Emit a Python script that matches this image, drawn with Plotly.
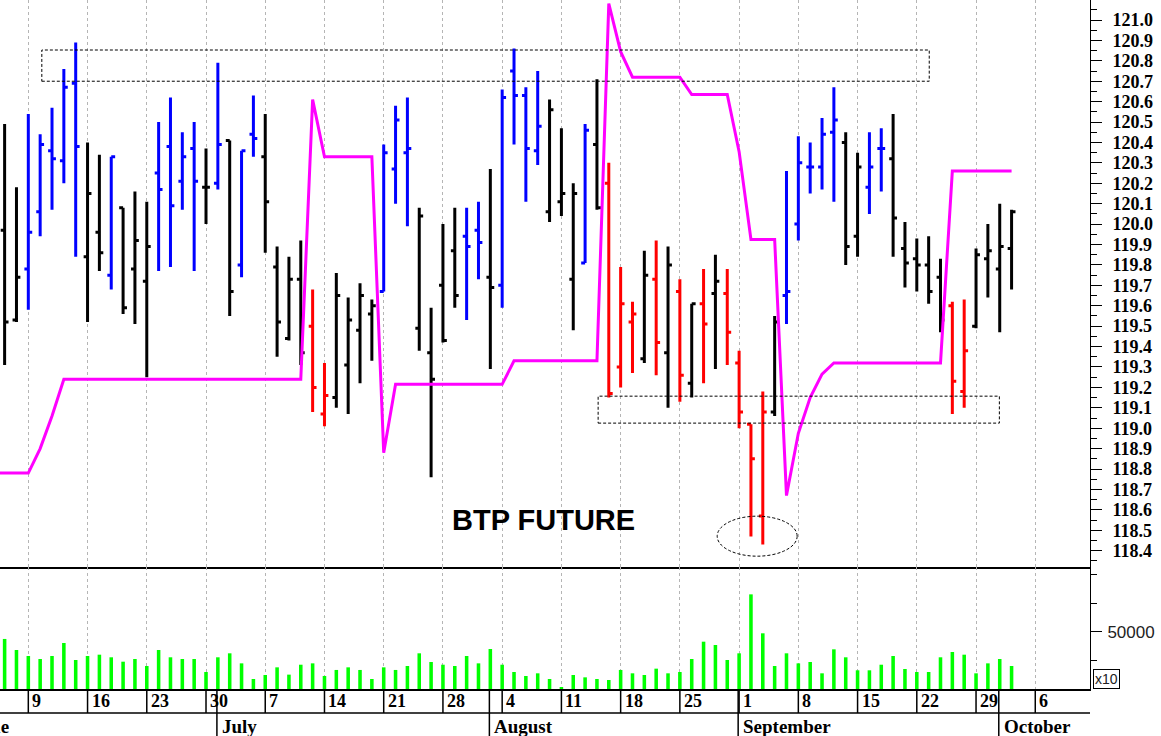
import numpy as np
import pandas as pd
import plotly.graph_objects as go
from plotly.subplots import make_subplots

# ---------------- data ----------------
dates = pd.bdate_range("2014-06-04", "2014-10-02")          # trading days shown
calendar = pd.bdate_range("2014-06-04", "2014-10-10")       # axis calendar (incl. empty right side)

# bar colour per day: b = blue, k = black, r = red
bar_colors = list("bkk" "bbbbb" "kkbkk" "kbbbb" "kbkbb" "kkkkr" "rkkkk" "bbbkk"
                  "kkbbk" "bbbbk" "kkbkr" "rrkrk" "rkrkr" "rrrkb" "bbbbk" "kbbkk"
                  "kkkrr" "kkkk")

opens = [119.90, 119.97, 119.53,
         119.78, 120.06, 120.36, 120.31, 120.69,
         119.84, 119.96, 119.75, 120.08, 119.78,
         119.72, 120.25, 120.38, 120.21, 120.37,
         120.18, 120.20, 120.41, 119.80, 120.44,
         120.33, 119.79, 119.44, 119.73, 119.50,
         119.07, 119.15, 119.31, 119.48, 119.56,
         119.67, 120.27, 120.35, 119.49, 119.37,
         119.70, 119.87, 119.94, 119.97, 119.74,
         119.70, 120.75, 120.63, 120.36, 120.06,
         120.11, 119.73, 119.81, 120.39, 120.20,
         119.30, 119.52, 119.34, 119.73, 119.37,
         119.67, 119.22, 119.61, 119.66, 119.66,
         119.32, 119.02, 118.57, 119.08, 119.65,
         120.00, 120.28, 120.28, 120.45, 120.40,
         119.94, 120.18, 120.37, 120.32, 119.88,
         119.83, 119.80, 119.74, 119.60, 119.18,
         119.50, 119.83, 119.78, 119.88]

highs = [120.40, 120.49, 120.18,
         120.54, 120.44, 120.57, 120.76, 120.89,
         120.40, 120.34, 120.33, 120.08, 120.16,
         120.11, 120.50, 120.62, 120.45, 120.50,
         120.37, 120.79, 120.41, 120.36, 120.63,
         120.54, 119.89, 119.84, 119.92, 119.68,
         119.32, 119.76, 119.64, 119.71, 119.63,
         120.39, 120.58, 120.62, 120.08, 119.59,
         120.00, 120.08, 120.08, 120.11, 120.27,
         120.66, 120.86, 120.67, 120.75, 120.61,
         120.47, 120.20, 120.49, 120.71, 120.30,
         119.79, 119.62, 119.87, 119.92, 119.89,
         119.73, 119.61, 119.78, 119.85, 119.78,
         119.38, 119.02, 119.18, 119.55, 120.26,
         120.43, 120.40, 120.52, 120.67, 120.45,
         120.35, 120.45, 120.47, 120.54, 120.01,
         119.93, 119.94, 119.83, 119.62, 119.63,
         119.88, 120.00, 120.10, 120.07]

lows = [119.70, 119.31, 119.52,
        119.58, 119.94, 120.07, 120.20, 119.84,
        119.52, 119.77, 119.68, 119.56, 119.51,
        119.25, 119.77, 119.79, 120.07, 119.77,
        120.00, 120.17, 119.55, 119.74, 120.33,
        119.86, 119.35, 119.43, 119.31, 119.08,
        119.01, 119.10, 119.07, 119.22, 119.33,
        119.67, 120.10, 119.99, 119.38, 118.76,
        119.42, 119.59, 119.53, 119.73, 119.29,
        119.59, 120.39, 120.11, 120.29, 120.01,
        120.04, 119.48, 119.81, 120.07, 119.15,
        119.20, 119.27, 119.32, 119.26, 119.10,
        119.13, 119.15, 119.22, 119.29, 119.31,
        119.00, 118.47, 118.43, 119.06, 119.51,
        119.92, 120.15, 120.17, 120.11, 119.80,
        119.84, 120.05, 120.16, 119.84, 119.69,
        119.67, 119.61, 119.47, 119.07, 119.10,
        119.49, 119.64, 119.47, 119.68]

closes = [119.87, 119.52, 119.74,
          119.96, 120.39, 120.32, 120.67, 120.38,
          120.15, 119.86, 120.33, 119.59, 119.92,
          119.89, 120.17, 120.09, 120.33, 120.21,
          120.18, 120.39, 119.67, 120.36, 120.42,
          120.11, 119.52, 119.73, 119.37, 119.20,
          119.16, 119.65, 119.53, 119.65, 119.60,
          120.35, 120.51, 120.37, 120.04, 119.24,
          119.43, 119.65, 119.89, 119.91, 119.69,
          120.62, 120.63, 120.37, 120.48, 120.56,
          120.15, 120.15, 120.46, 120.08, 119.17,
          119.61, 119.56, 119.75, 119.42, 119.80,
          119.26, 119.61, 119.51, 119.72, 119.47,
          119.08, 118.85, 119.08, 119.52, 119.67,
          120.30, 120.28, 120.44, 120.51, 119.89,
          120.28, 120.28, 120.37, 120.03, 119.81,
          119.80, 119.67, 119.53, 119.23, 119.38,
          119.85, 119.87, 119.89, 120.06]

stop_line = [118.78, 118.78, 118.78,
             118.78, 118.90, 119.06, 119.24, 119.24,
             119.24, 119.24, 119.24, 119.24, 119.24,
             119.24, 119.24, 119.24, 119.24, 119.24,
             119.24, 119.24, 119.24, 119.24, 119.24,
             119.24, 119.24, 119.24, 119.24, 120.61,
             120.33, 120.33, 120.33, 120.33, 120.33,
             118.88, 119.215, 119.215, 119.215, 119.215,
             119.215, 119.215, 119.215, 119.215, 119.215,
             119.215, 119.33, 119.33, 119.33, 119.33,
             119.33, 119.33, 119.33, 119.33, 121.08,
             120.845, 120.72, 120.72, 120.72, 120.72,
             120.72, 120.635, 120.635, 120.635, 120.635,
             120.355, 119.925, 119.925, 119.925, 118.67,
             118.975, 119.15, 119.265, 119.32, 119.32,
             119.32, 119.32, 119.32, 119.32, 119.32,
             119.32, 119.32, 119.32, 120.26, 120.26,
             120.26, 120.26, 120.26, 120.26]

volumes = [30000, 43900, 34200,
           28950, 26300, 28950, 40350, 25440,
           28950, 30100, 27800, 23950, 26300,
           20180, 34200, 27800, 26300, 26300,
           14900, 27800, 31300, 22500, 8770,
           12300, 19000, 12600, 21300, 22500,
           11400, 16700, 19000, 16700, 8770,
           19000, 16700, 20180, 31300, 23700,
           21300, 20180, 28950, 22500, 35100,
           21300, 14900, 11400, 13750, 8770,
           1170, 12300, 10230, 8770, 7900,
           16700, 13750, 12300, 17840, 13750,
           14900, 26300, 41500, 38600, 25440,
           31300, 83000, 48850, 20180, 31300,
           22500, 23700, 13750, 34800, 27800,
           16400, 16400, 21300, 28950, 17540,
           14900, 14900, 27800, 32450, 30100,
           13750, 22500, 26300, 20180]

month_names = {6: "June", 7: "July", 8: "August", 9: "September", 10: "October"}
title_text = "BTP FUTURE"

# ---------------- derived positions (trading-day index axis) ----------------
x = np.arange(len(dates))
cal_x = np.arange(len(calendar))
mondays = [i for i, d in zip(cal_x, calendar) if d.weekday() == 0]
monday_labels = [str(calendar[i].day) for i in mondays]
month_starts = [i for i in cal_x if i == 0 or calendar[i].month != calendar[i - 1].month]

XR = [0.61, 92.62]
YR = [118.32, 121.098]
VR = [0, 107000]

fig = make_subplots(rows=2, cols=1, shared_xaxes=True, vertical_spacing=0,
                    row_heights=[567 / 689, 122 / 689])

cmap = {"b": "#0000ff", "k": "#000000", "r": "#ff0000"}
for key, col in cmap.items():
    idx = [i for i, c in enumerate(bar_colors) if c == key]
    fig.add_trace(go.Ohlc(
        x=x[idx], open=[opens[i] for i in idx], high=[highs[i] for i in idx],
        low=[lows[i] for i in idx], close=[closes[i] for i in idx],
        increasing=dict(line=dict(color=col, width=3)),
        decreasing=dict(line=dict(color=col, width=3)),
        tickwidth=0.33, hoverinfo="skip", showlegend=False), row=1, col=1)

fig.add_trace(go.Scatter(x=x, y=stop_line, mode="lines",
                         line=dict(color="#ff00ff", width=3),
                         hoverinfo="skip", showlegend=False), row=1, col=1)

fig.add_trace(go.Bar(x=x, y=volumes, width=0.3, marker=dict(color="#00ff00", line=dict(width=0)),
                     hoverinfo="skip", showlegend=False), row=2, col=1)

grid = dict(showgrid=True, gridcolor="#b5b5b5", griddash="3px,3px", gridwidth=1,
            tickmode="array", tickvals=mondays, showticklabels=False, ticks="",
            zeroline=False, range=XR, showline=True, linecolor="black", linewidth=1.5,
            rangeslider=dict(visible=False))
fig.update_xaxes(**grid)

serif = dict(family="Liberation Serif", size=18, color="black", weight="bold")

fig.update_yaxes(row=1, col=1, range=YR, side="right", showline=True, linecolor="black",
                 linewidth=1, ticks="outside", ticklen=11, tickcolor="black", dtick=0.1,
                 tick0=0, tickformat=".1f", tickfont=serif, showgrid=False, zeroline=False,
                 ticklabelstandoff=7,
                 minor=dict(dtick=0.05, ticks="outside", ticklen=6, tickcolor="black",
                            showgrid=False))
fig.update_yaxes(row=2, col=1, range=VR, side="right", showline=True, linecolor="black",
                 linewidth=1, ticks="outside", ticklen=11, tickcolor="black",
                 tickmode="array", tickvals=[50000], ticktext=["50000"],
                 tickfont=dict(family="Liberation Sans", size=17, color="#222"),
                 showgrid=False, zeroline=False, ticklabelstandoff=2,
                 minor=dict(tickmode="array", tickvals=[25000, 75000, 100000], ticks="outside",
                            ticklen=6, tickcolor="black", showgrid=False))

shapes = []
dash = dict(color="black", width=1, dash="3px,2px")
shapes.append(dict(type="rect", xref="x", yref="y", x0=4.14, x1=79.05, y0=120.70, y1=120.853, line=dash))
shapes.append(dict(type="rect", xref="x", yref="y", x0=51.1, x1=84.97, y0=119.025, y1=119.157, line=dash))
shapes.append(dict(type="circle", xref="x", yref="y", x0=61.15, x1=67.9, y0=118.373, y1=118.569, line=dash))

row_sep = -24 / 689
bottom = -47 / 689
shapes.append(dict(type="line", xref="paper", yref="paper", x0=0, x1=1, y0=row_sep, y1=row_sep,
                   line=dict(color="black", width=1.5)))
for m in mondays:
    shapes.append(dict(type="line", xref="x2", yref="paper", x0=m, x1=m, y0=0, y1=row_sep,
                       line=dict(color="black", width=1.5)))
for ms in month_starts[1:]:
    shapes.append(dict(type="line", xref="x2", yref="paper", x0=ms - 0.08, x1=ms - 0.08,
                       y0=0, y1=bottom, line=dict(color="black", width=1.5)))

annotations = []
for m, lab in zip(mondays, monday_labels):
    annotations.append(dict(xref="x2", yref="paper", x=m, y=-12 / 689, text=lab,
                            xanchor="left", yanchor="middle", xshift=2, showarrow=False,
                            font=serif))
for k, ms in enumerate(month_starts):
    name = month_names[calendar[ms].month]
    if k == 0:
        annotations.append(dict(xref="x2", yref="paper", x=1, y=-37 / 689, text=name,
                                xanchor="right", yanchor="middle", xshift=6, showarrow=False,
                                font=dict(serif, size=19)))
    else:
        annotations.append(dict(xref="x2", yref="paper", x=ms, y=-37 / 689, text=name,
                                xanchor="left", yanchor="middle", xshift=2, showarrow=False,
                                font=dict(serif, size=19)))
annotations.append(dict(xref="x", yref="y", x=46.53, y=118.55, text=title_text, showarrow=False,
                        xanchor="center", yanchor="middle",
                        font=dict(family="Liberation Sans", size=29, color="black", weight="bold")))
annotations.append(dict(xref="paper", yref="paper", x=1, y=0, xshift=3, text="x10",
                        xanchor="left", yanchor="bottom", showarrow=False,
                        bordercolor="black", borderwidth=1, borderpad=1,
                        font=dict(family="Liberation Sans", size=14, color="#222")))

fig.update_layout(width=1161, height=736, margin=dict(l=0, r=71, t=0, b=47),
                  plot_bgcolor="white", paper_bgcolor="white", showlegend=False,
                  shapes=shapes, annotations=annotations, hovermode=False)

fig.write_html("out.html", config={"displayModeBar": False},
               post_script="document.body.style.margin='0';")
